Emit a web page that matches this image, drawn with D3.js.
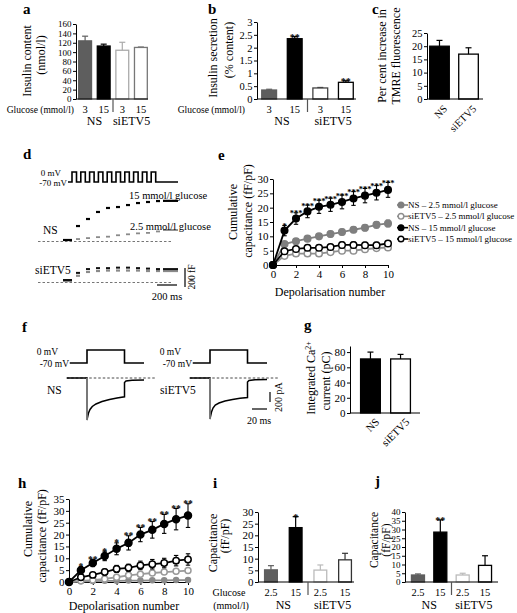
<!DOCTYPE html>
<html><head><meta charset="utf-8">
<script src="https://cdn.jsdelivr.net/npm/d3@7"></script>
<style>
body{margin:0;background:#fff}
svg{display:block}
</style></head><body>
<svg id="fig" width="517" height="613" font-family="Liberation Serif, DejaVu Serif, serif"></svg>
<script>
// ================= DATA =================
const groups = ["NS", "siETV5"];
const glucoseAB = ["3", "15", "3", "15"];
const insulinContent = [124, 113, 104, 110];
const insulinContentErr = [10, 4, 17, 1];
const insulinSecretion = [0.35, 2.35, 0.43, 0.65];
const insulinSecretionErr = [0.03, 0.08, 0.02, 0.06];
const secretionStars = ["", "**", "", "**"];
const tmreCats = ["NS", "siETV5"];
const tmreIncrease = [20, 17];
const tmreErr = [2.2, 2.4];

// panel d: voltage protocol and capacitance traces (fF)
const dPulseStart = [40, 128, 216, 304, 392, 480, 568, 656, 744, 832];
const dPulseWidth = 45;
const dSegT = [[-50, 40], [80, 120], [180, 220], [280, 320], [380, 420], [480, 520], [580, 620], [680, 720], [780, 820], [880, 920], [950, 1100]];
const dNS15 = [0, 147, 221, 295, 337, 347, 368, 389, 400, 410, 412];
const dNS25 = [0, 10, 20, 30, 35, 50, 60, 70, 75, 90, 105];
const dSi15 = [0, 75, 115, 125, 125, 130, 130, 125, 120, 115, 115];
const dSi25 = [0, 55, 95, 105, 110, 110, 110, 110, 105, 105, 105];

// panel e
const depolNumber = [0, 1, 2, 3, 4, 5, 6, 7, 8, 9, 10];
const eNS25 = [0, 7.3, 8.3, 9.2, 10, 10.8, 11.5, 12.3, 13, 14, 14.5];
const eNS25Err = [0, 0.8, 0.8, 0.9, 0.9, 1, 1, 1, 1.1, 1.1, 1.2];
const eSi25 = [0, 3.2, 4, 4, 4, 4.5, 5, 5, 5.5, 5.9, 6.1];
const eSi25Err = [0, 0.6, 0.6, 0.6, 0.7, 0.7, 0.7, 0.7, 0.8, 0.8, 0.8];
const eNS15 = [0, 12, 16.2, 18.7, 20.3, 21, 22, 23.2, 24.2, 25.2, 26.2];
const eNS15Err = [0, 1.8, 2, 2.2, 2.3, 2.3, 2.4, 2.4, 2.5, 2.5, 2.6];
const eSi15 = [0, 4.8, 5.6, 6, 6, 6.3, 7, 7, 6.9, 6.9, 7.5];
const eSi15Err = [0, 0.8, 0.8, 0.9, 0.9, 0.9, 1, 1, 1, 1, 1];
const eStars = ["", "*", "***", "***", "***", "***", "***", "***", "***", "***", "***"];
const eLegend = ["NS \u2013 2.5 mmol/l glucose", "siETV5 \u2013 2.5 mmol/l glucose", "NS \u2013 15 mmol/l glucose", "siETV5 \u2013 15 mmol/l glucose"];

// panel f: voltage step and Ca2+ currents (ms, mV, pA)
const fStepT = [-23, 0, 0, 50, 50, 76];
const fStepV = [-70, -70, 0, 0, -70, -70];
const fNS_T = [-27, 0, 0, 0.5, 2, 4, 7, 12, 20, 30, 40, 50, 50, 52, 60, 76];
const fNS_I = [0, 0, -840, -800, -700, -630, -570, -520, -470, -430, -400, -375, -90, -60, -45, -40];
const fSi_T = [-27, 0, 0, 0.5, 2, 4, 7, 12, 20, 30, 40, 50, 50, 52, 60, 76];
const fSi_I = [0, 0, -820, -780, -680, -600, -540, -500, -460, -430, -405, -390, -80, -50, -35, -30];

// panel g
const caCats = ["NS", "siETV5"];
const caCharge = [71, 71];
const caErr = [9, 6];

// panel h
const hNS15 = [0, 5, 8, 11, 14, 16.5, 20, 22, 24.5, 26.5, 28];
const hNS15Err = [0, 1.5, 1.5, 2, 2.5, 3, 3, 3.5, 4, 4.5, 5];
const hSi15 = [0, 2, 3, 4.2, 5.5, 6, 7, 7.5, 8, 9, 9.5];
const hSi15Err = [0, 0.8, 1, 1.2, 1.5, 1.5, 1.8, 2, 2, 2.2, 2.4];
const hSi25 = [0, 0.5, 0.8, 1.3, 2, 2.8, 3.3, 3.8, 4.2, 4.5, 4.8];
const hSi25Err = [0, 0.3, 0.4, 0.5, 0.6, 0.7, 0.8, 0.8, 0.9, 1, 1];
const hNS25 = [0, 0.3, 0.4, 0.5, 0.5, 0.6, 0.6, 0.7, 0.7, 0.8, 0.8];
const hNS25Err = [0, 0.2, 0.2, 0.2, 0.2, 0.2, 0.2, 0.2, 0.2, 0.2, 0.2];
const hStars = ["", "*", "**", "*", "*", "**", "**", "**", "**", "**", "**"];

// panels i, j
const glucoseIJ = ["2.5", "15", "2.5", "15"];
const capI = [5.2, 23.3, 5.1, 9.5];
const capIErr = [1.8, 4.7, 2.2, 2.8];
const capIStars = ["", "*", "", ""];
const capJ = [4, 28.5, 4, 9.5];
const capJErr = [0.6, 7, 1, 5.5];
const capJStars = ["", "**", "", ""];

// ================= DRAWING =================
const FONT = "'Liberation Serif', 'DejaVu Serif', serif";
const svg = d3.select("#fig");
const DG = "#5e5e5e";

function label(txt, x, y, o = {}) {
  const t = svg.append("text").attr("x", x).attr("y", y).text(txt)
    .style("font-family", FONT)
    .attr("font-size", o.fs || 10).attr("text-anchor", o.anchor || "start").attr("fill", o.fill || "#000");
  if (o.bold) t.attr("font-weight", "bold");
  if (o.rot) t.attr("transform", `rotate(${o.rot},${x},${y})`);
  if (o.dy) t.attr("dy", o.dy);
  return t;
}
function vtitle(txt, x, y, fs) { return label(txt, x, y, {rot: -90, anchor: "middle", dy: "0.35em", fs: fs || 12}); }
function line(x1, y1, x2, y2, col, w, dash) {
  const l = svg.append("line").attr("x1", x1).attr("y1", y1).attr("x2", x2).attr("y2", y2)
    .attr("stroke", col || "#000").attr("stroke-width", w || 1);
  if (dash) l.attr("stroke-dasharray", dash);
  return l;
}
function styleAxis(ga, fs) {
  ga.attr("font-family", null).attr("font-size", fs);
  ga.selectAll("text").style("font-family", FONT);
  ga.selectAll("path,line").attr("stroke", "#000");
}

function barPanel(p) {
  const y = d3.scaleLinear().domain(p.domain).range([p.yb, p.yt]);
  const x = d3.scaleBand().domain(d3.range(p.values.length)).range([p.x0, p.x1])
    .paddingInner(p.pi).paddingOuter(p.po);
  const bw = x.bandwidth();
  const g = svg.append("g");
  g.selectAll("rect").data(p.values).join("rect")
    .attr("x", (d, i) => x(i) + 0.65).attr("y", d => y(d))
    .attr("width", bw - 1.3).attr("height", d => y(0) - y(d))
    .attr("fill", (d, i) => p.fills[i]).attr("stroke", (d, i) => p.strokes[i]).attr("stroke-width", 1.3);
  p.values.forEach((v, i) => {
    const cx = x(i) + bw / 2, top = y(v + p.errs[i]);
    line(cx, y(v), cx, top, p.strokes[i], 1.2);
    line(cx - 3, top, cx + 3, top, p.strokes[i], 1.2);
    if (p.stars && p.stars[i]) label(p.stars[i], cx, top + 4, {anchor: "middle", fs: 10, bold: true});
  });
  line(p.x0, y(0), p.xEnd, y(0), "#000", 1);
  const ax = d3.axisLeft(y).tickValues(p.ticks).tickSize(3).tickSizeOuter(0).tickPadding(1.5)
    .tickFormat(p.fmt || d3.format("~g"));
  const ga = svg.append("g").attr("transform", `translate(${p.x0},0)`).call(ax);
  styleAxis(ga, p.tfs || 10.5);
  return {x, y, bw};
}

function groupLabels(r, cats, glabels, rowY, grpY, fs, gfs) {
  cats.forEach((c, i) => label(c, r.x(i) + r.bw / 2, rowY, {anchor: "middle", dy: "0.35em", fs: fs}));
  const sep = (r.x(1) + r.bw + r.x(2)) / 2;
  line(sep, r.y(0), sep, r.y(0) + 13, "#555", 1.2);
  glabels.forEach((gname, k) => {
    const cx = (r.x(2 * k) + r.x(2 * k + 1) + r.bw) / 2;
    label(gname, cx, grpY, {anchor: "middle", dy: "0.35em", fs: gfs});
  });
}

// ---------- panel a ----------
label("a", 23, 14, {fs: 15, bold: true});
const ra = barPanel({x0: 76, x1: 150, pi: 0.24, po: 0.11, xEnd: 148, yb: 99, yt: 24, domain: [0, 160],
  ticks: [0, 20, 40, 60, 80, 100, 120, 140, 160], values: insulinContent, errs: insulinContentErr,
  fills: [DG, "#000", "#fff", "#fff"], strokes: [DG, "#000", "#aaa", "#777"], tfs: 9});
groupLabels(ra, glucoseAB, groups, 109, 121, 10.5, 12);
label("Glucose (mmol/l)", 74, 109.5, {anchor: "end", dy: "0.35em", fs: 9.5});
vtitle("Insulin content", 27, 61);
vtitle("(nmol/l)", 41, 55);

// ---------- panel b ----------
label("b", 208, 14, {fs: 15, bold: true});
const rb = barPanel({x0: 257, x1: 358, pi: 0.37, po: 0.16, xEnd: 356, yb: 99, yt: 22, domain: [0, 3],
  ticks: [0, 0.5, 1, 1.5, 2, 2.5, 3], values: insulinSecretion, errs: insulinSecretionErr,
  fills: [DG, "#000", "#fff", "#fff"], strokes: [DG, "#000", "#444", "#000"], stars: secretionStars});
groupLabels(rb, glucoseAB, groups, 109, 121, 10.5, 12);
label("Glucose (mmol/l)", 245, 109.5, {anchor: "end", dy: "0.35em", fs: 9.5});
vtitle("Insulin secretion", 213, 58);
vtitle("(% content)", 229, 50);

// ---------- panel c ----------
label("c", 372, 14, {fs: 15, bold: true});
const rc = barPanel({x0: 427, x1: 481, pi: 0.28, po: 0.07, xEnd: 483, yb: 99, yt: 33, domain: [0, 25],
  ticks: [0, 5, 10, 15, 20, 25], values: tmreIncrease, errs: tmreErr,
  fills: ["#000", "#fff"], strokes: ["#000", "#000"]});
tmreCats.forEach((c, i) => {
  const ax = rc.x(i) + rc.bw / 2 + 4, ay = 105;
  label(c, ax, ay, {anchor: "end", fs: 10.5, rot: -45, dy: "0.6em"});
});
vtitle("Per cent increase in", 382, 56);
vtitle("TMRE fluorescence", 396, 56);

// ---------- panel d ----------
label("d", 23, 159, {fs: 15, bold: true});
{
  const dx = d3.scaleLinear().domain([0, 1100]).range([68, 178]);
  const dV = d3.scaleLinear().domain([-70, 0]).range([182, 172]);
  const pts = [[0, -70]];
  dPulseStart.forEach(s => { pts.push([s, -70], [s, 0], [s + dPulseWidth, 0], [s + dPulseWidth, -70]); });
  pts.push([1100, -70]);
  svg.append("path").attr("d", d3.line().x(d => dx(d[0])).y(d => dV(d[1]))(pts))
    .attr("fill", "none").attr("stroke", "#000").attr("stroke-width", 1.6);
  label("0 mV", 61, 173, {anchor: "end", dy: "0.35em", fs: 9});
  label("-70 mV", 67, 183, {anchor: "end", dy: "0.35em", fs: 9});

  const yNS = d3.scaleLinear().domain([0, 200]).range([240, 221]);
  const ySi = d3.scaleLinear().domain([0, 200]).range([281, 262]);
  line(dx(-300), yNS(0) + 1.5, dx(1050), yNS(0) + 1.5, "#666", 0.9, "2.5,2");
  line(dx(-300), ySi(0) + 1.5, dx(1050), ySi(0) + 1.5, "#666", 0.9, "2.5,2");
  function trace(levels, ys, col, w, off) {
    dSegT.forEach((s, k) => {
      svg.append("path").attr("d", d3.line().x(d => dx(d[0])).y(d => ys(d[1]) + (off || 0))([[s[0], levels[k]], [s[1], levels[k]]]))
        .attr("stroke", col).attr("stroke-width", w).attr("fill", "none");
    });
  }
  trace(dNS25, yNS, "#8a8a8a", 1.8);
  trace(dNS15, yNS, "#000", 2.2);
  trace(dSi25, ySi, "#8a8a8a", 2.2, 0);
  trace(dSi15, ySi, "#111", 2.0, -1);
  label("15 mmol/l glucose", 129, 195, {dy: "0.35em", fs: 10.5});
  label("2.5 mmol/l glucose", 130, 226, {dy: "0.35em", fs: 10.5});
  label("NS", 43, 230, {dy: "0.35em", fs: 11.5});
  label("siETV5", 35, 270, {dy: "0.35em", fs: 11.5});
  const bar200 = ySi(0) - ySi(200);
  line(185, 287, 185, 287 - bar200, "#000", 1.2);
  label("200 fF", 192, 277, {anchor: "middle", dy: "0.35em", fs: 9.5, rot: -90});
  line(dx(890), 285, dx(1090), 285, "#000", 1.2);
  label("200 ms", 167, 296, {anchor: "middle", dy: "0.35em", fs: 10.5});
}

// ---------- line panels ----------
function linePanel(p) {
  const x = d3.scaleLinear().domain([0, 10]).range([p.x0, p.x1]);
  const y = d3.scaleLinear().domain(p.domain).range([p.yb, p.yt]);
  const ax = d3.axisBottom(x).tickValues([0, 2, 4, 6, 8, 10]).tickSize(3).tickSizeOuter(0).tickPadding(2);
  const gx = svg.append("g").attr("transform", `translate(0,${p.yb})`).call(ax);
  styleAxis(gx, 11);
  const ay = d3.axisLeft(y).tickValues(p.yticks).tickSize(3).tickSizeOuter(0).tickPadding(1.5);
  const gy = svg.append("g").attr("transform", `translate(${p.x0},0)`).call(ay);
  styleAxis(gy, 11);
  p.series.forEach(s => {
    svg.append("path").attr("d", d3.line().x((d, i) => x(depolNumber[i])).y(d => y(d))(s.v))
      .attr("fill", "none").attr("stroke", s.col).attr("stroke-width", s.lw || 1.8);
    s.v.forEach((v, i) => {
      if (s.e[i] > 0) {
        const cx = x(depolNumber[i]);
        line(cx, y(v - s.e[i]), cx, y(v + s.e[i]), s.col, 1.1);
        line(cx - 2.2, y(v + s.e[i]), cx + 2.2, y(v + s.e[i]), s.col, 1.1);
        line(cx - 2.2, y(v - s.e[i]), cx + 2.2, y(v - s.e[i]), s.col, 1.1);
      }
    });
    svg.append("g").selectAll("circle").data(s.v).join("circle")
      .attr("cx", (d, i) => x(depolNumber[i])).attr("cy", d => y(d)).attr("r", s.r || 3.3)
      .attr("fill", s.filled ? s.col : "#fff").attr("stroke", s.col).attr("stroke-width", 1.5);
  });
  const top = p.starSeries;
  p.stars.forEach((st, i) => {
    if (st) label(st, x(depolNumber[i]), y(top.v[i] + top.e[i]) + 3.5, {anchor: "middle", fs: p.starFs || 9, bold: true});
  });
  label("Depolarisation number", p.titleX, p.titleY, {anchor: "middle", dy: "0.35em", fs: 12});
  return {x, y};
}

// ---------- panel e ----------
label("e", 218, 160, {fs: 15, bold: true});
const eSeries = [
  {v: eNS25, e: eNS25Err, col: "#7f7f7f", filled: true},
  {v: eSi25, e: eSi25Err, col: "#8f8f8f", filled: false},
  {v: eSi15, e: eSi15Err, col: "#000", filled: false},
  {v: eNS15, e: eNS15Err, col: "#000", filled: true}
];
linePanel({x0: 273, x1: 388, yb: 265, yt: 179, domain: [0, 30], yticks: [0, 5, 10, 15, 20, 25, 30],
  series: eSeries, stars: eStars, starSeries: eSeries[3], titleX: 330, titleY: 292, starFs: 8.5});
vtitle("Cumulative", 233, 212, 12);
vtitle("capacitance (fF/pF)", 248, 211, 12);
{
  const legOrder = [eSeries[0], eSeries[1], eSeries[3], eSeries[2]];
  const lgY = d3.scalePoint().domain(d3.range(4)).range([205, 239]);
  legOrder.forEach((s, i) => {
    const yy = lgY(i);
    line(397, yy, 408, yy, s.col, 1.6);
    svg.append("circle").attr("cx", 401).attr("cy", yy).attr("r", 2.8)
      .attr("fill", s.filled ? s.col : "#fff").attr("stroke", s.col).attr("stroke-width", 1.4);
    label(eLegend[i], 408, yy, {dy: "0.35em", fs: 9});
  });
}

// ---------- panel f ----------
label("f", 22, 332, {fs: 15, bold: true});
{
  const fV = d3.scaleLinear().domain([-70, 0]).range([363, 350]);
  const fI = d3.scaleLinear().domain([-200, 0]).range([388, 378]);
  [[87, fNS_T, fNS_I, "NS", 47, 58, 69], [210, fSi_T, fSi_I, "siETV5", 160, 181, 192]].forEach(([x0, T, I, nm, nx, zx, sx]) => {
    const fx = d3.scaleLinear().domain([0, 50]).range([x0, x0 + 37.5]);
    const vp = fStepT.map((t, i) => [t, fStepV[i]]);
    svg.append("path").attr("d", d3.line().x(d => fx(d[0])).y(d => fV(d[1]))(vp))
      .attr("fill", "none").attr("stroke", "#000").attr("stroke-width", 1.6);
    label("0 mV", zx, 352, {anchor: "end", dy: "0.35em", fs: 9.5});
    label("-70 mV", sx, 363.5, {anchor: "end", dy: "0.35em", fs: 9.5});
    line(fx(-27), fI(0), fx(93), fI(0), "#333", 0.9, "2.5,2");
    const ip = T.map((t, i) => [t, I[i]]);
    svg.append("path").attr("d", d3.line().x(d => fx(d[0])).y(d => fI(d[1]))(ip))
      .attr("fill", "none").attr("stroke", "#000").attr("stroke-width", 1.5);
    line(fx(0), fI(0), fx(0), fI(I[2]), "#888", 1.6);
    label(nm, nx, 390, {dy: "0.35em", fs: 11.5});
    if (nm === "siETV5") {
      line(270, 392, 270, 392 + (fI(-200) - fI(0)), "#000", 1.2);
      label("200 pA", 278, 397, {anchor: "middle", dy: "0.35em", fs: 10, rot: -90});
      line(fx(56), 409, fx(76), 409, "#000", 1.2);
      label("20 ms", 259, 420, {anchor: "middle", dy: "0.35em", fs: 10});
    }
  });
}

// ---------- panel g ----------
label("g", 304, 330, {fs: 15, bold: true});
const rg = barPanel({x0: 350, x1: 421, pi: 0.3, po: 0.33, xEnd: 420, yb: 413, yt: 346, domain: [0, 88],
  ticks: [0, 20, 40, 60, 80], values: caCharge, errs: caErr, fills: ["#000", "#fff"], strokes: ["#000", "#000"], tfs: 11});
caCats.forEach((c, i) => {
  label(c, rg.x(i) + rg.bw / 2 + 5, 418, {anchor: "end", fs: 11, rot: -45, dy: "0.6em"});
});
{
  const t = label("Integrated Ca", 311, 378, {rot: -90, anchor: "middle", dy: "0.35em", fs: 12});
  t.append("tspan").attr("dy", -4).attr("font-size", 8).text("2+");
  vtitle("current (pC)", 326, 381);
}

// ---------- panel h ----------
label("h", 18, 488, {fs: 15, bold: true});
const hSeries = [
  {v: hNS25, e: hNS25Err, col: "#8a8a8a", filled: true, r: 2.5},
  {v: hSi25, e: hSi25Err, col: "#9a9a9a", filled: false, r: 3},
  {v: hSi15, e: hSi15Err, col: "#000", filled: false, r: 3.2},
  {v: hNS15, e: hNS15Err, col: "#000", filled: true, r: 3.5}
];
linePanel({x0: 69, x1: 188, yb: 582, yt: 499, domain: [0, 35], yticks: [0, 5, 10, 15, 20, 25, 30, 35],
  series: hSeries, stars: hStars, starSeries: hSeries[3], titleX: 124, titleY: 606, starFs: 9.5});
vtitle("Cumulative", 28, 529, 12);
vtitle("capacitance (fF/pF)", 42, 536, 12);

// ---------- panel i ----------
label("i", 213, 488, {fs: 15, bold: true});
const ri = barPanel({x0: 258, x1: 358, pi: 0.43, po: 0.24, xEnd: 354, yb: 582, yt: 512, domain: [0, 30],
  ticks: [0, 5, 10, 15, 20, 25, 30], values: capI, errs: capIErr,
  fills: [DG, "#000", "#fff", "#fff"], strokes: [DG, "#000", "#bbb", "#333"], stars: capIStars, tfs: 11});
groupLabels(ri, glucoseIJ, groups, 592, 605, 10.5, 12);
label("Glucose", 229, 592, {anchor: "middle", dy: "0.35em", fs: 10});
label("(mmol/l)", 231, 605, {anchor: "middle", dy: "0.35em", fs: 10});
vtitle("Capacitance", 213, 543);
vtitle("(fF/pF)", 225, 536);

// ---------- panel j ----------
label("j", 375, 486, {fs: 15, bold: true});
const rj = barPanel({x0: 405, x1: 498, pi: 0.36, po: 0.26, xEnd: 498, yb: 582, yt: 512, domain: [0, 40],
  ticks: [0, 5, 10, 15, 20, 25, 30, 35, 40], values: capJ, errs: capJErr,
  fills: [DG, "#000", "#fff", "#fff"], strokes: [DG, "#000", "#bbb", "#000"], stars: capJStars, tfs: 9});
groupLabels(rj, glucoseIJ, groups, 592, 605, 10.5, 12);
vtitle("Capacitance", 374, 540, 11.5);
vtitle("(fF/pF)", 386, 540, 11.5);
</script></body></html>
